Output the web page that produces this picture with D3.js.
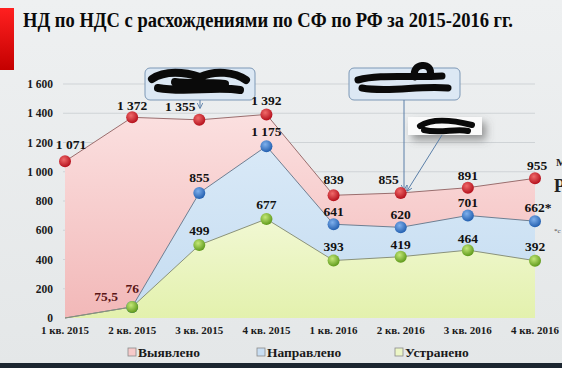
<!DOCTYPE html>
<html>
<head>
<meta charset="utf-8">
<script src="https://cdn.jsdelivr.net/npm/d3@7"></script>
<style>
  body { margin: 0; background: #e9ebec; }
  svg { display: block; }
</style>
</head>
<body>
<div id="chart"></div>
<script>
var width = 562;
var height = 368;

var quarters = ["1 кв. 2015", "2 кв. 2015", "3 кв. 2015", "4 кв. 2015",
  "1 кв. 2016", "2 кв. 2016", "3 кв. 2016", "4 кв. 2016"];
var found = [1071, 1372, 1355, 1392, 839, 855, 891, 955];
var sent = [0, 76, 855, 1175, 641, 620, 701, 662];
var fixed = [0, 75.5, 499, 677, 393, 419, 464, 392];
var sentLabels = ["", "76", "855", "1 175", "641", "620", "701", "662*"];
var fixedLabels = ["", "75,5", "499", "677", "393", "419", "464", "392"];
var yTicks = [0, 200, 400, 600, 800, 1000, 1200, 1400, 1600];
var legendNames = ["Выявлено", "Направлено", "Устранено"];

var fmt = function (v) {
  return d3.format(",")(v).replace(/,/g, " ");
};

var x = d3.scalePoint().domain(quarters).range([65, 535]);
var y = d3.scaleLinear().domain([0, 1600]).range([318, 84]);

var svg = d3.select("#chart").append("svg")
  .attr("width", width)
  .attr("height", height)
  .attr("font-family", "'Liberation Serif', 'Times New Roman', Times, 'DejaVu Serif', serif")
  .attr("font-weight", "bold");

var defs = svg.append("defs");

function vGrad(id, top, bottom) {
  var g = defs.append("linearGradient").attr("id", id)
    .attr("x1", 0).attr("y1", 0).attr("x2", 0).attr("y2", 1);
  g.append("stop").attr("offset", "0%").attr("stop-color", top);
  g.append("stop").attr("offset", "100%").attr("stop-color", bottom);
}
function ball(id, light, dark) {
  var g = defs.append("radialGradient").attr("id", id)
    .attr("cx", "40%").attr("cy", "35%").attr("r", "65%");
  g.append("stop").attr("offset", "0%").attr("stop-color", light);
  g.append("stop").attr("offset", "100%").attr("stop-color", dark);
}
vGrad("bgGrad", "#eef0f1", "#e4e7e8");
vGrad("redArea", "#fbe0e0", "#f2b8b8");
vGrad("blueArea", "#d9e9f7", "#c4dcf1");
vGrad("greenArea", "#f1f8d3", "#e3f1ad");
vGrad("barGrad", "#ff2020", "#c40000");
ball("redBall", "#f06a6a", "#b4101c");
ball("blueBall", "#7fb0ec", "#2460b0");
ball("greenBall", "#c4e878", "#5f9a1c");

// background
svg.append("rect").attr("width", width).attr("height", height).attr("fill", "url(#bgGrad)");
svg.append("rect").attr("x", 0).attr("y", 8).attr("width", 14).attr("height", 62).attr("fill", "url(#barGrad)");
svg.append("rect").attr("x", 0).attr("y", 363).attr("width", width).attr("height", 5).attr("fill", "#1c2630");

// title
svg.append("text")
  .attr("x", 23).attr("y", 27)
  .attr("font-size", 20)
  .attr("textLength", 490)
  .attr("lengthAdjust", "spacingAndGlyphs")
  .attr("fill", "#0a0a0a")
  .text("НД по НДС с расхождениями по СФ по РФ за 2015-2016 гг.");

// gridlines
svg.append("g").selectAll("line")
  .data(yTicks.slice(1))
  .enter().append("line")
  .attr("x1", 63).attr("x2", 535)
  .attr("y1", function (d) { return y(d); })
  .attr("y2", function (d) { return y(d); })
  .attr("stroke", "#cfd3d6")
  .attr("stroke-width", 1);

// y labels
svg.append("g").selectAll("text")
  .data(yTicks)
  .enter().append("text")
  .attr("x", 53)
  .attr("y", function (d) { return y(d) + 4; })
  .attr("text-anchor", "end")
  .attr("font-size", 11.5)
  .attr("fill", "#1a1a1a")
  .text(fmt);

// x labels
svg.append("g").selectAll("text")
  .data(quarters)
  .enter().append("text")
  .attr("x", function (d) { return x(d); })
  .attr("y", 334)
  .attr("text-anchor", "middle")
  .attr("font-size", 11)
  .attr("fill", "#1a1a1a")
  .text(function (d) { return d; });

var series = [
  { vals: found, area: "url(#redArea)", line: "#9a6e6e", ball: "url(#redBall)", start: 0 },
  { vals: sent, area: "url(#blueArea)", line: "#6e7f92", ball: "url(#blueBall)", start: 1 },
  { vals: fixed, area: "url(#greenArea)", line: "#8a927a", ball: "url(#greenBall)", start: 1 }
];

var area = d3.area()
  .x(function (d, i) { return x(quarters[i]); })
  .y0(y(0))
  .y1(function (d) { return y(d); });
var line = d3.line()
  .x(function (d, i) { return x(quarters[i]); })
  .y(function (d) { return y(d); });

series.forEach(function (s) {
  svg.append("path").attr("d", area(s.vals)).attr("fill", s.area);
});
series.forEach(function (s) {
  svg.append("path").attr("d", line(s.vals))
    .attr("fill", "none").attr("stroke", s.line).attr("stroke-width", 1);
});

// callout boxes (redacted text)
function callout(x0, y0, w, h) {
  svg.append("rect").attr("x", x0).attr("y", y0).attr("width", w).attr("height", h)
    .attr("rx", 5).attr("fill", "#dce8f4").attr("stroke", "#7d98b6").attr("stroke-width", 1);
}
callout(145, 68, 110, 32);
callout(349, 68, 111, 32);
svg.append("path")
  .attr("d", "M152,79 C165,70 185,72 200,77 C215,70 235,72 246,80 M158,88 C185,93 215,86 240,90 M175,82 C190,84 205,82 225,84")
  .attr("fill", "none").attr("stroke", "#0a0a0a").attr("stroke-width", 8).attr("stroke-linecap", "round");
svg.append("path")
  .attr("d", "M358,80 C380,74 410,78 442,76 M362,88 C390,93 420,85 448,88 M415,77 C410,63 434,61 430,75")
  .attr("fill", "none").attr("stroke", "#0a0a0a").attr("stroke-width", 7).attr("stroke-linecap", "round");

// white label with shadow
defs.append("filter").attr("id", "shadow").attr("x", "-20%").attr("y", "-20%").attr("width", "150%").attr("height", "200%")
  .append("feDropShadow").attr("dx", 4).attr("dy", 5).attr("stdDeviation", 4).attr("flood-color", "#555").attr("flood-opacity", 0.6);
svg.append("rect").attr("x", 408).attr("y", 117).attr("width", 74).attr("height", 18)
  .attr("fill", "#fafafa").attr("filter", "url(#shadow)");
svg.append("path")
  .attr("d", "M420,126 C432,118 452,120 472,125 M424,130 C440,134 456,128 468,131")
  .attr("fill", "none").attr("stroke", "#0a0a0a").attr("stroke-width", 6).attr("stroke-linecap", "round");

// arrows
defs.append("marker").attr("id", "arrow").attr("viewBox", "0 0 10 10")
  .attr("refX", 9).attr("refY", 5).attr("markerWidth", 6).attr("markerHeight", 6)
  .attr("orient", "auto")
  .append("path").attr("d", "M0,0 L10,5 L0,10").attr("fill", "none").attr("stroke", "#5a7fa8").attr("stroke-width", 1.5);
function arrow(x1, y1, x2, y2) {
  svg.append("line").attr("x1", x1).attr("y1", y1).attr("x2", x2).attr("y2", y2)
    .attr("stroke", "#5a7fa8").attr("stroke-width", 1).attr("marker-end", "url(#arrow)");
}
arrow(200, 100, 200, 108);
arrow(404, 100, 404, 190);
arrow(442, 135, 407, 191);

// markers
series.forEach(function (s) {
  svg.append("g").selectAll("circle")
    .data(s.vals.slice(s.start))
    .enter().append("circle")
    .attr("cx", function (d, i) { return x(quarters[i + s.start]); })
    .attr("cy", function (d) { return y(d); })
    .attr("r", 6)
    .attr("fill", s.ball);
});

// data labels
var dx = {
  found: [6, 0, -19, 0, 0, -12, 0, 2],
  sent: [0, 0, 0, 0, 0, 0, 0, 3],
  fixed: [0, -26, 0, 0, 0, 0, 0, 0]
};
var dy = {
  found: [-12, -7, -9, -9, -11, -9, -8, -8],
  sent: [0, -14, -11, -10, -8, -8, -8, -9],
  fixed: [0, -6, -10, -10, -10, -8, -7, -10]
};
function labels(vals, texts, key) {
  svg.append("g").selectAll("text")
    .data(vals)
    .enter().append("text")
    .filter(function (d, i) { return texts[i] !== ""; })
    .attr("x", function (d) { var i = vals.indexOf(d); return x(quarters[i]) + dx[key][i]; })
    .attr("y", function (d) { var i = vals.indexOf(d); return y(d) + dy[key][i]; })
    .attr("text-anchor", "middle")
    .attr("font-size", 13.5)
    .attr("fill", function (d) { var i = vals.indexOf(d); return i === 1 && key !== "found" ? "#5a1616" : "#111"; })
    .text(function (d) { return texts[vals.indexOf(d)]; });
}
labels(found, found.map(fmt), "found");
labels(sent, sentLabels, "sent");
labels(fixed, fixedLabels, "fixed");

// legend
var legendX = [128, 257, 395];
var legendFill = ["#f6caca", "#c8def3", "#ecf6c6"];
legendNames.forEach(function (name, i) {
  svg.append("rect").attr("x", legendX[i]).attr("y", 348).attr("width", 8).attr("height", 8)
    .attr("fill", legendFill[i]).attr("stroke", "#8a8a8a").attr("stroke-width", 0.8);
  svg.append("text").attr("x", legendX[i] + 10).attr("y", 357)
    .attr("font-size", 13.5).attr("fill", "#1a1a1a").text(name);
});

// text cut off at the right edge (as in the source slide)
svg.append("text").attr("x", 556).attr("y", 166).attr("font-size", 11).attr("fill", "#222").text("М");
svg.append("text").attr("x", 554).attr("y", 192).attr("font-size", 18).attr("fill", "#222").text("Р");
svg.append("text").attr("x", 554).attr("y", 233).attr("font-size", 7).attr("font-weight", "normal").attr("fill", "#444").text("*с");
</script>
</body>
</html>
